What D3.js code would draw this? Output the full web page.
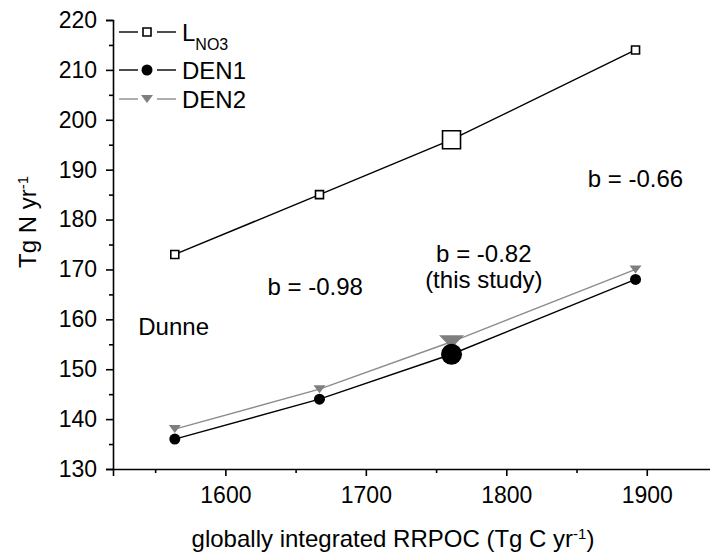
<!DOCTYPE html>
<html>
<head>
<meta charset="utf-8">
<script src="https://cdn.jsdelivr.net/npm/d3@7"></script>
<style>
  body { margin: 0; background: #fff; }
  text { font-family: "Liberation Sans", Arial, sans-serif; fill: #000; }
</style>
</head>
<body>
<svg id="chart" width="710" height="560"></svg>
<script>
// RRPOC values (Tg C / yr)
const rrpoc = [1564, 1667, 1761, 1892];
const lNO3 = [173, 185, 196, 214];
const den1 = [136, 144, 153, 168];
const den2 = [138, 146, 155.5, 170];
const thisStudy = 2; // index drawn with the big marker

const xTicks = [1600, 1700, 1800, 1900];
const xMinor = [1550, 1650, 1750, 1850];
const yTicks = [130, 140, 150, 160, 170, 180, 190, 200, 210, 220];
const yMinor = [135, 145, 155, 165, 175, 185, 195, 205, 215];

const notes = [
  {text: 'b = -0.66', v: [1892, 186.5], anchor: 'middle'},
  {text: 'b = -0.82', v: [1784, 171.5], anchor: 'middle'},
  {text: '(this study)', v: [1784, 166.3], anchor: 'middle'},
  {text: 'b = -0.98', v: [1630, 164.8], anchor: 'start'},
  {text: 'Dunne', v: [1538, 156.8], anchor: 'start'}
];

const svg = d3.select('#chart');
const x = d3.scaleLinear().domain([1520, 1950]).range([113, 717]);
const y = d3.scaleLinear().domain([130, 220]).range([469, 20]);

// axes
const xAxis = svg.append('g').attr('transform', 'translate(0,469)');
xAxis.call(d3.axisBottom(x).tickValues(xTicks).tickFormat(d3.format('d')).tickSize(7).tickPadding(11))
  .call(g => g.selectAll('text').attr('font-size', 23).attr('font-family', 'Liberation Sans, Arial'));
xAxis.append('g')
  .call(d3.axisBottom(x).tickValues(xMinor).tickSize(4).tickFormat(''))
  .call(g => g.select('.domain').remove());

const yAxis = svg.append('g').attr('transform', 'translate(113,0)');
yAxis.call(d3.axisLeft(y).tickValues(yTicks).tickSize(7).tickPadding(9))
  .call(g => g.selectAll('text').attr('font-size', 23).attr('font-family', 'Liberation Sans, Arial'));
yAxis.append('g')
  .call(d3.axisLeft(y).tickValues(yMinor).tickSize(4).tickFormat(''))
  .call(g => g.select('.domain').remove());

svg.selectAll('.domain, .tick line').attr('stroke', '#000').attr('stroke-width', 1.6);

// axis titles
const yt = svg.append('text')
  .attr('transform', 'translate(36,222) rotate(-90)')
  .attr('text-anchor', 'middle').attr('font-size', 24);
yt.append('tspan').text('Tg N yr');
yt.append('tspan').attr('dy', '-0.55em').attr('font-size', 15).text('-1');

const xt = svg.append('text')
  .attr('x', 393).attr('y', 547)
  .attr('text-anchor', 'middle').attr('font-size', 24);
xt.append('tspan').text('globally integrated RRPOC (Tg C yr');
xt.append('tspan').attr('dy', '-0.55em').attr('font-size', 15).text('-1');
xt.append('tspan').attr('dy', '0.35em').text(')');

// marker shapes
const square = s => d3.symbol(d3.symbolSquare, s * s)();
const circle = s => d3.symbol(d3.symbolCircle, Math.PI * s * s / 4)();
const tri = (w, h) => `M${-w / 2},${-h / 2}L${w / 2},${-h / 2}L0,${h / 2}Z`;

const series = [
  {name: 'lNO3', vals: lNO3, line: '#000', mark: i => i === thisStudy ? square(18) : square(8),
    fill: '#fff', stroke: '#000', sw: 1.6},
  {name: 'den2', vals: den2, line: '#8c8c8c', mark: i => i === thisStudy ? tri(25, 13) : tri(12, 8),
    fill: '#7f7f7f', stroke: 'none', sw: 0},
  {name: 'den1', vals: den1, line: '#000', mark: i => i === thisStudy ? circle(21) : circle(11),
    fill: '#000', stroke: 'none', sw: 0}
];

const line = d3.line().x(d => x(d[0])).y(d => y(d[1]));
series.forEach(s => {
  const pts = rrpoc.map((r, i) => [r, s.vals[i]]);
  svg.append('path').datum(pts)
    .attr('d', line).attr('fill', 'none')
    .attr('stroke', s.line).attr('stroke-width', 1.4);
  svg.append('g').selectAll('path').data(pts).join('path')
    .attr('transform', d => `translate(${x(d[0])},${y(d[1])})`)
    .attr('d', (d, i) => s.mark(i))
    .attr('fill', s.fill).attr('stroke', s.stroke).attr('stroke-width', s.sw);
});

// legend
const legend = [
  {label: 'L', sub: 'NO3', ypos: 32, s: series[0]},
  {label: 'DEN1', ypos: 70, s: series[2]},
  {label: 'DEN2', ypos: 99, s: series[1]}
];
legend.forEach(l => {
  const g = svg.append('g').attr('transform', `translate(0,${l.ypos})`);
  [[119, 138], [157, 176]].forEach(seg => {
    g.append('line').attr('x1', seg[0]).attr('x2', seg[1])
      .attr('stroke', l.s.line).attr('stroke-width', 1.4);
  });
  g.append('path').attr('transform', 'translate(147,0)')
    .attr('d', l.s.mark(-1))
    .attr('fill', l.s.fill).attr('stroke', l.s.stroke).attr('stroke-width', l.s.sw);
  const t = g.append('text').attr('x', 182).attr('y', 8.5).attr('font-size', 24);
  t.append('tspan').text(l.label);
  if (l.sub) t.append('tspan').attr('dy', 9).attr('font-size', 16).text(l.sub);
});

// annotations
svg.append('g').selectAll('text').data(notes).join('text')
  .attr('x', d => x(d.v[0])).attr('y', d => y(d.v[1]))
  .attr('text-anchor', d => d.anchor)
  .attr('font-size', 24)
  .text(d => d.text);
</script>
</body>
</html>
